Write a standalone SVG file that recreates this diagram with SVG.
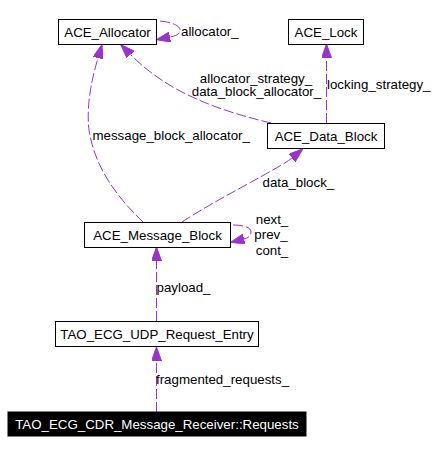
<svg xmlns="http://www.w3.org/2000/svg" width="438" height="454" viewBox="0 0 438 454">
<style>
text{font-family:"Liberation Sans",Arial,sans-serif;font-size:13.3px;fill:#000}
.node rect{fill:#fff;stroke:#000;stroke-width:1}
.node text{text-anchor:middle}
#n_requests rect{fill:#000}
#n_requests text{fill:#fff}
.edge{fill:none;stroke:#9a32cd;stroke-width:1;stroke-dasharray:10,3;marker-end:url(#arr)}
.mid{text-anchor:middle}
</style>
<defs>
<marker id="arr" viewBox="0 0 14 10" refX="0" refY="5" markerWidth="14" markerHeight="10" markerUnits="userSpaceOnUse" orient="auto">
<path d="M0,0 L14,5 L0,10 z" fill="#9a32cd" stroke="#9a32cd" stroke-width="1"/>
</marker>
</defs>
<rect width="438" height="454" fill="#fff"/>
<g id="edges">
<path class="edge" d="M160,21 C172,22 181,26 180,31 C179,35 175,36 170,37"/>
<path class="edge" d="M271,123 C225,112 170,95 130.5,54.5"/>
<path class="edge" d="M326.5,123 L326.5,58"/>
<path class="edge" d="M143,222 C120,200 95,170 89,130 C86,105 92,78 98,58"/>
<path class="edge" d="M182,222 C215,200 280,168 292,158"/>
<path class="edge" d="M233,225 C243,225 251,227 251,232 C251,236 248,238 244,239"/>
<path class="edge" d="M156.5,321 L156.5,261"/>
<path class="edge" d="M156.5,412 L156.5,361"/>
<text x="181" y="36">allocator_</text>
<text class="mid" x="256" y="82.5">allocator_strategy_</text>
<text class="mid" x="256.5" y="96">data_block_allocator_</text>
<text x="327" y="88.5">locking_strategy_</text>
<text x="92.5" y="140">message_block_allocator_</text>
<text x="262.5" y="186.5">data_block_</text>
<text class="mid" x="272" y="223.5">next_</text>
<text class="mid" x="271" y="239">prev_</text>
<text class="mid" x="272" y="254.5">cont_</text>
<text x="156.5" y="292">payload_</text>
<text x="156" y="384">fragmented_requests_</text>
</g>
<g id="n_allocator" class="node"><rect x="58.5" y="19.5" width="98" height="25"/><text x="107.5" y="36.5">ACE_Allocator</text></g>
<g id="n_lock" class="node"><rect x="288.5" y="19.5" width="75" height="25"/><text x="326" y="36.5">ACE_Lock</text></g>
<g id="n_datablock" class="node"><rect x="267.5" y="123.5" width="117" height="25"/><text x="326" y="140.5">ACE_Data_Block</text></g>
<g id="n_msgblock" class="node"><rect x="84.5" y="222.5" width="146" height="25"/><text x="157.5" y="239.5">ACE_Message_Block</text></g>
<g id="n_entry" class="node"><rect x="55.5" y="321.5" width="203" height="25"/><text x="157" y="338.5">TAO_ECG_UDP_Request_Entry</text></g>
<g id="n_requests" class="node"><rect x="8" y="412" width="298" height="24"/><text x="157" y="428.5">TAO_ECG_CDR_Message_Receiver::Requests</text></g>
</svg>
